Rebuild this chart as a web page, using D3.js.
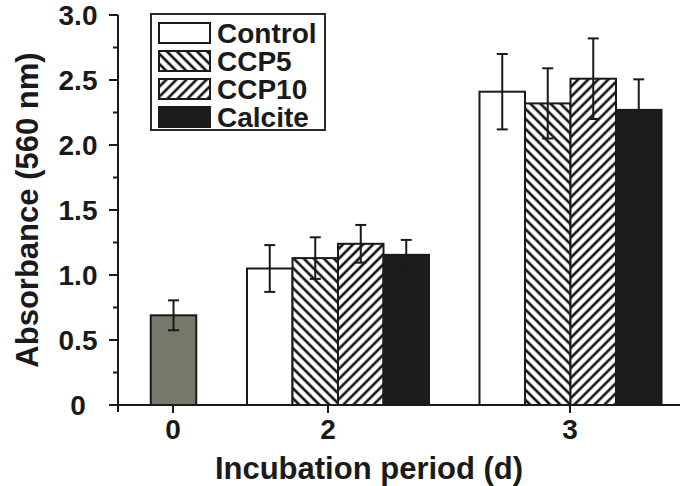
<!DOCTYPE html>
<html><head><meta charset="utf-8">
<script src="https://cdn.jsdelivr.net/npm/d3@7"></script>
<style>body{margin:0;background:#fff}svg{display:block}text{font-family:"Liberation Sans",Arial,sans-serif;font-weight:bold;fill:#1a1a1a}</style>
</head><body>
<script>
// ---- data ----
const days = ["0", "2", "3"];
const series = ["Control", "CCP5", "CCP10", "Calcite"];
const baselineValue = [0.69];      // day 0
const baselineError = [0.115];
const controlValues = [null, 1.05, 2.41];
const controlErrors = [null, 0.18, 0.29];
const ccp5Values   = [null, 1.13, 2.32];
const ccp5Errors   = [null, 0.16, 0.27];
const ccp10Values  = [null, 1.24, 2.51];
const ccp10Errors  = [null, 0.145, 0.31];
const calciteValues = [null, 1.155, 2.27];
const calciteErrors = [null, 0.115, 0.235];
const yTicks = [0, 0.5, 1.0, 1.5, 2.0, 2.5, 3.0];
const yTickLabels = ["0", "0.5", "1.0", "1.5", "2.0", "2.5", "3.0"];
const xTitle = "Incubation period (d)";
const yTitle = "Absorbance (560 nm)";

const W = 680, H = 486;
const svg = d3.select("body").append("svg").attr("width", W).attr("height", H);

const y = d3.scaleLinear().domain([0, 3]).range([405, 15]);
const groupCenter = d3.scaleOrdinal(days, [173.5, 338, 570.5]);
const tickPos = d3.scaleOrdinal(days, [173, 328, 570]);
const inner = d3.scaleBand(series, [-91, 91]).padding(0);
const bw = inner.bandwidth();

// patterns
const defs = svg.append("defs");
function hatch(id, angle) {
  const p = defs.append("pattern").attr("id", id).attr("patternUnits", "userSpaceOnUse")
    .attr("width", 7.1).attr("height", 7.1).attr("patternTransform", `rotate(${angle})`);
  p.append("rect").attr("width", 7.1).attr("height", 7.1).attr("fill", "#fff");
  p.append("line").attr("x1", 3.55).attr("x2", 3.55).attr("y1", -1).attr("y2", 8.1)
    .attr("stroke", "#111").attr("stroke-width", 2.6);
}
hatch("h5", -45);
hatch("h10", 45);
const fills = {Control: "#ffffff", CCP5: "url(#h5)", CCP10: "url(#h10)", Calcite: "#1c1c1a"};
const valuesBy = {Control: controlValues, CCP5: ccp5Values, CCP10: ccp10Values, Calcite: calciteValues};
const errorsBy = {Control: controlErrors, CCP5: ccp5Errors, CCP10: ccp10Errors, Calcite: calciteErrors};

const bars = [];
bars.push({x: groupCenter("0") - bw / 2, v: baselineValue[0], e: baselineError[0], fill: "#76786a"});
days.forEach((d, i) => {
  series.forEach(s => {
    const v = valuesBy[s][i];
    if (v == null) return;
    bars.push({x: groupCenter(d) + inner(s), v, e: errorsBy[s][i], fill: fills[s]});
  });
});

const g = svg.append("g");
bars.forEach(b => {
  g.append("rect").attr("x", b.x).attr("y", y(b.v)).attr("width", bw).attr("height", y(0) - y(b.v))
    .attr("fill", b.fill).attr("stroke", "#1a1a1a").attr("stroke-width", 2);
  const cx = b.x + bw / 2;
  g.append("line").attr("x1", cx).attr("x2", cx).attr("y1", y(b.v + b.e)).attr("y2", y(b.v - b.e))
    .attr("stroke", "#1a1a1a").attr("stroke-width", 2);
  [b.v + b.e, b.v - b.e].forEach(t => {
    g.append("line").attr("x1", cx - 5.5).attr("x2", cx + 5.5).attr("y1", y(t)).attr("y2", y(t))
      .attr("stroke", "#1a1a1a").attr("stroke-width", 2);
  });
});

// axes
const ax = svg.append("g").attr("stroke", "#1a1a1a").attr("stroke-width", 2);
ax.append("line").attr("x1", 118).attr("x2", 118).attr("y1", y(3)).attr("y2", y(0) + 7);
ax.append("line").attr("x1", 109).attr("x2", 680).attr("y1", y(0)).attr("y2", y(0));
d3.range(0, 13).forEach(k => {
  const v = k * 0.25;
  if (v === 0) return;
  const major = k % 2 === 0;
  ax.append("line").attr("x1", major ? 109 : 113).attr("x2", 118).attr("y1", y(v)).attr("y2", y(v));
});
days.forEach(d => {
  ax.append("line").attr("x1", tickPos(d)).attr("x2", tickPos(d)).attr("y1", y(0)).attr("y2", y(0) + 8);
});

// tick labels
yTicks.forEach((t, i) => {
  svg.append("text").attr("x", 78).attr("y", y(t) + 10).attr("text-anchor", "middle")
    .attr("font-size", 28).text(yTickLabels[i]);
});
days.forEach(d => {
  svg.append("text").attr("x", tickPos(d)).attr("y", 439).attr("text-anchor", "middle")
    .attr("font-size", 28).text(d);
});
svg.append("text").attr("x", 369).attr("y", 479).attr("text-anchor", "middle")
  .attr("font-size", 31).text(xTitle);
svg.append("text").attr("transform", "translate(38,210) rotate(-90)").attr("text-anchor", "middle")
  .attr("font-size", 31).text(yTitle);

// legend
const lg = svg.append("g");
lg.append("rect").attr("x", 151).attr("y", 14).attr("width", 174).attr("height", 116)
  .attr("fill", "#fff").attr("stroke", "#2a2a2a").attr("stroke-width", 2);
series.forEach((s, i) => {
  const top = 23 + i * 28;
  lg.append("rect").attr("x", 159).attr("y", top).attr("width", 51).attr("height", 20)
    .attr("fill", fills[s]).attr("stroke", "#1a1a1a").attr("stroke-width", 2);
  lg.append("text").attr("x", 217).attr("y", top + 20).attr("font-size", 28).text(s);
});
</script>
</body></html>
